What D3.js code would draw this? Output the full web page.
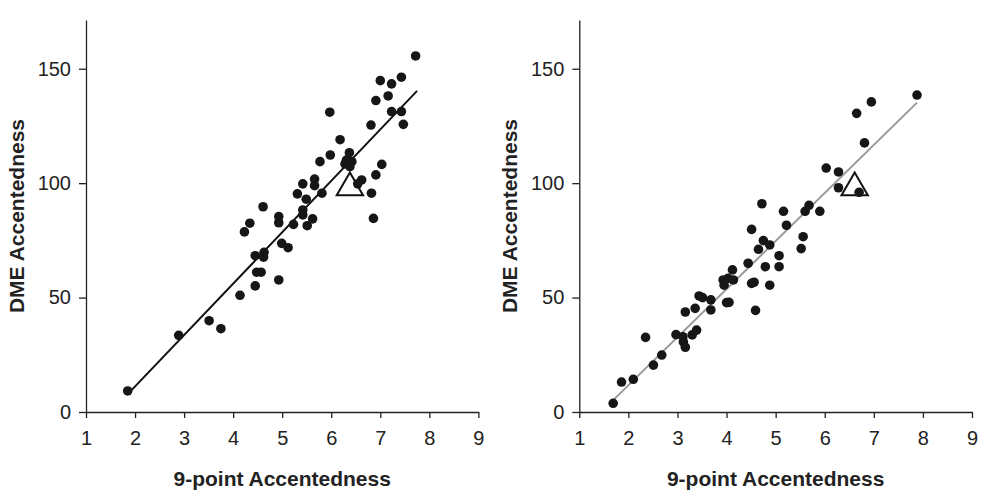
<!DOCTYPE html>
<html>
<head>
<meta charset="utf-8">
<script src="https://cdn.jsdelivr.net/npm/d3@7/dist/d3.min.js"></script>
<style>
  html, body { margin: 0; padding: 0; background: #fff; }
  svg { display: block; font-family: "Liberation Sans", Arial, Helvetica, sans-serif; }
</style>
</head>
<body>
<svg id="chart" width="982" height="491"></svg>
<script>
// Panel A: 9-point ratings vs DME ratings (x, y pairs)
const leftX = [1.85, 2.89, 3.51, 3.75, 4.14, 4.45, 4.93, 4.48, 4.57, 4.45, 4.63, 4.62, 4.99, 5.12,
  4.23, 4.34, 4.61, 4.93, 4.93, 5.23, 5.42, 5.42, 5.51, 5.62, 5.31, 5.42, 5.49, 5.66, 5.66, 5.81,
  5.77, 5.98, 5.97, 6.18, 6.37, 6.31, 6.42, 6.28, 6.38, 6.62, 6.54, 6.82, 6.86, 6.91, 7.03, 6.81,
  6.91, 7.00, 7.23, 7.43, 7.16, 7.23, 7.43, 7.47, 7.72];
const leftY = [9.2, 33.5, 39.9, 36.4, 51.0, 55.1, 57.7, 61.1, 61.1, 68.3, 69.8, 67.7, 73.7, 71.8,
  78.7, 82.5, 89.7, 85.4, 82.7, 82.0, 88.3, 86.1, 81.4, 84.4, 95.3, 99.7, 93.0, 101.8, 98.9, 95.6,
  109.4, 112.3, 131.0, 119.0, 113.3, 110.1, 109.4, 108.4, 107.2, 101.4, 99.7, 95.6, 84.6, 103.6, 108.2, 125.4,
  136.1, 144.8, 143.4, 146.3, 138.1, 131.3, 131.3, 125.7, 155.6];

// Panel B
const rightX = [1.69, 1.86, 2.10, 2.35, 2.51, 2.68, 2.97, 3.11, 3.12, 3.16, 3.16, 3.30, 3.39, 3.36,
  3.44, 3.51, 3.68, 3.68, 3.93, 3.95, 4.03, 4.12, 4.14, 4.00, 4.05, 4.44, 4.51, 4.56, 4.59, 4.51,
  4.65, 4.75, 4.88, 4.79, 4.88, 5.07, 5.07, 5.22, 5.16, 4.72, 5.52, 5.56, 5.60, 5.68, 5.90, 6.03,
  6.28, 6.28, 6.70, 6.81, 6.65, 6.95, 7.88];
const rightY = [3.8, 13.1, 14.3, 32.6, 20.5, 24.9, 33.8, 32.9, 30.6, 28.3, 43.7, 33.7, 35.8, 45.3,
  50.7, 50.0, 49.0, 44.6, 57.7, 55.4, 58.4, 62.1, 57.7, 47.8, 47.9, 65.0, 56.2, 56.7, 44.4, 79.8,
  71.1, 74.9, 73.0, 63.5, 55.4, 68.3, 63.5, 81.6, 87.7, 91.0, 71.4, 76.6, 87.7, 90.3, 87.7, 106.6,
  104.9, 98.0, 96.0, 117.6, 130.5, 135.5, 138.5];

// Fitted lines: [slope, intercept, xStart, xEnd]
const leftFit = [22.47, -33.8, 1.88, 7.75];
const rightFit = [21.0, -30.3, 1.69, 7.88];

// Reference item (triangle marker) per panel: [x, y]
const leftRef = [6.38, 98];
const rightRef = [6.61, 98];

const xTicks = [1, 2, 3, 4, 5, 6, 7, 8, 9];
const yTicks = [0, 50, 100, 150];
const xTitle = "9-point Accentedness";
const yTitle = "DME Accentedness";

const svg = d3.select("#chart");

function panel(x0, x1, xs, ys, fit, ref, lineColor) {
  const x = d3.scaleLinear().domain([1, 9]).range([x0, x1]);
  const y = d3.scaleLinear().domain([0, 171.3]).range([412, 20]);
  const g = svg.append("g");

  // axes
  const ya = g.append("g").attr("transform", `translate(${x0},0)`)
    .call(d3.axisLeft(y).tickValues(yTicks).tickSize(7).tickPadding(8).tickSizeOuter(0));
  const xa = g.append("g").attr("transform", `translate(0,412)`)
    .call(d3.axisBottom(x).tickValues(xTicks).tickSize(6).tickPadding(13).tickSizeOuter(0));
  [ya, xa].forEach(a => {
    a.selectAll("path, line").attr("stroke", "#222").attr("stroke-width", 1.3);
    a.selectAll("text").attr("font-size", 20).attr("fill", "#222")
      .attr("font-family", "'Liberation Sans', Arial, Helvetica, sans-serif");
  });

  // titles
  g.append("text").attr("x", (x0 + x1) / 2).attr("y", 486)
    .attr("text-anchor", "middle").attr("font-size", 21).attr("font-weight", "bold")
    .attr("fill", "#222").text(xTitle);
  g.append("text")
    .attr("transform", `translate(${x0 - 70},216) rotate(-90)`)
    .attr("text-anchor", "middle").attr("dy", "0.36em").attr("font-size", 21).attr("font-weight", "bold")
    .attr("fill", "#222").text(yTitle);

  // reference triangle
  g.append("path")
    .attr("d", d3.symbol().type(d3.symbolTriangle).size(300)())
    .attr("transform", `translate(${x(ref[0])},${y(ref[1])})`)
    .attr("fill", "#fff").attr("stroke", "#111").attr("stroke-width", 2);

  // fitted line
  g.append("line")
    .attr("x1", x(fit[2])).attr("y1", y(fit[0] * fit[2] + fit[1]))
    .attr("x2", x(fit[3])).attr("y2", y(fit[0] * fit[3] + fit[1]))
    .attr("stroke", lineColor).attr("stroke-width", 2);

  // points
  g.selectAll("circle").data(xs.map((v, i) => [v, ys[i]])).join("circle")
    .attr("cx", d => x(d[0])).attr("cy", d => y(d[1])).attr("r", 4.8)
    .attr("fill", "#161616");
}

panel(86, 478.4, leftX, leftY, leftFit, leftRef, "#111");
panel(579.3, 972, rightX, rightY, rightFit, rightRef, "#999");
</script>
</body>
</html>
